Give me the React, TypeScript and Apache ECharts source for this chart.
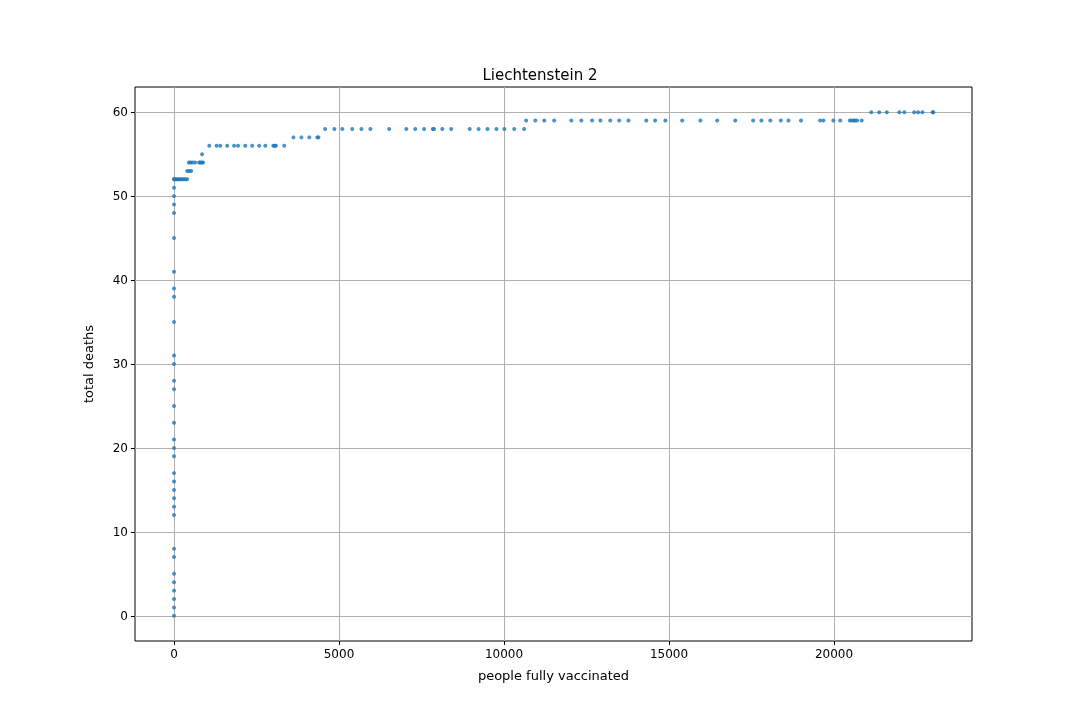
import React, { useEffect, useRef } from 'react';
import * as echarts from 'echarts';

// people fully vaccinated, total deaths
const zeroDeaths = [0, 1, 2, 3, 4, 5, 7, 8, 12, 13, 14, 15, 16, 17, 19, 20, 21, 23, 25, 27, 28, 30, 31, 35, 38, 39, 41, 45, 48, 49, 50, 51, 52];
const row52 = [0, 40, 80, 120, 160, 200, 250, 300, 350, 400];
const row53 = [400, 460, 520];
const row54 = [450, 500, 560, 640, 760, 800, 840, 880];
const row55 = [850];
const row56 = [1070, 1290, 1400, 1610, 1820, 1940, 2160, 2370, 2580, 2770, 3010, 3050, 3090, 3340];
const row57 = [3620, 3860, 4100, 4340, 4380];
const row58 = [4580, 4860, 5100, 5400, 5680, 5950, 6520, 7040, 7310, 7580, 7840, 7880, 8130, 8400, 8960, 9230, 9500, 9770, 10010, 10310, 10610];
const row59 = [10670, 10950, 11220, 11520, 12040, 12340, 12670, 12920, 13220, 13490, 13770, 14310, 14580, 14890, 15400, 15950, 16460, 17010, 17550, 17800, 18070, 18390, 18620, 19000, 19580, 19680, 19980, 20190, 20480, 20540, 20600, 20640, 20700, 20840];
const row60 = [21130, 21370, 21600, 21980, 22130, 22430, 22550, 22680, 22990, 23010];
const xTicks = [0, 5000, 10000, 15000, 20000];
const yTicks = [0, 10, 20, 30, 40, 50, 60];

const points: number[][] = [
  ...zeroDeaths.map((d) => [0, d]),
  ...row52.map((v) => [v, 52]),
  ...row53.map((v) => [v, 53]),
  ...row54.map((v) => [v, 54]),
  ...row55.map((v) => [v, 55]),
  ...row56.map((v) => [v, 56]),
  ...row57.map((v) => [v, 57]),
  ...row58.map((v) => [v, 58]),
  ...row59.map((v) => [v, 59]),
  ...row60.map((v) => [v, 60]),
];

const App: React.FC = () => {
  const chartRef = useRef<HTMLDivElement>(null);

  useEffect(() => {
    if (!chartRef.current) return;
    const myChart = echarts.init(chartRef.current, undefined, { renderer: 'svg' });
    const font = 'DejaVu Sans';
    const gridLine = { show: true, lineStyle: { color: '#b0b0b0', width: 1 } };
    myChart.setOption({
      animation: false,
      textStyle: { fontFamily: font },
      title: {
        text: 'Liechtenstein 2',
        left: 'center',
        top: 62,
        textStyle: { fontFamily: font, fontSize: 15, fontWeight: 'normal', color: '#000' },
      },
      grid: { left: 135, right: 108, top: 87, bottom: 79, show: true, borderColor: '#000', borderWidth: 1 },
      xAxis: {
        type: 'value',
        min: -1182,
        max: 24182,
        name: 'people fully vaccinated',
        nameLocation: 'middle',
        nameGap: 28,
        nameTextStyle: { fontSize: 13, color: '#000' },
        axisLine: { show: false, onZero: false },
        axisTick: { show: true, length: 4, customValues: xTicks, lineStyle: { color: '#000' } },
        axisLabel: { customValues: xTicks, color: '#000', fontSize: 12, margin: 7, formatter: (v: number) => String(v) },
        splitLine: gridLine,
      },
      yAxis: {
        type: 'value',
        min: -3,
        max: 63,
        name: 'total deaths',
        nameLocation: 'middle',
        nameGap: 40,
        nameTextStyle: { fontSize: 13, color: '#000' },
        axisLine: { show: false, onZero: false },
        axisTick: { show: true, length: 4, customValues: yTicks, lineStyle: { color: '#000' } },
        axisLabel: { customValues: yTicks, color: '#000', fontSize: 12, margin: 7 },
        splitLine: gridLine,
      },
      series: [
        {
          type: 'scatter',
          data: points,
          symbolSize: 4,
          itemStyle: { color: '#1f77b4' },
        },
      ],
    });
    return () => myChart.dispose();
  }, []);

  return <div ref={chartRef} style={{ position: 'fixed', left: 0, top: 0, width: '1080px', height: '720px' }} />;
};

export default App;
